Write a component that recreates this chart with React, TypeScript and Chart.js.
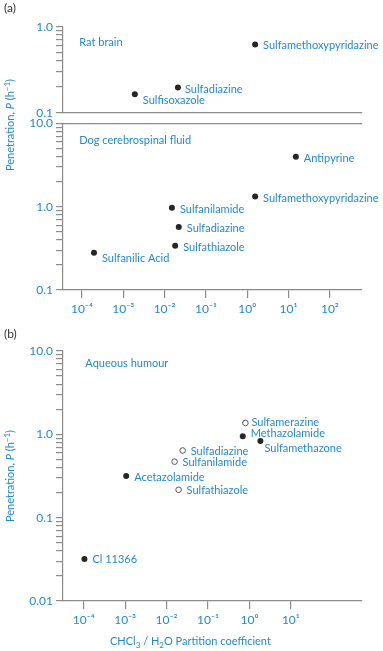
import React, { useEffect, useRef } from "react";
import { Chart, registerables } from "chart.js";
Chart.register(...registerables);

const BLUE = "#2489cf";
const AXIS = "#8c8c8c";
const DOT = "#262626";
const FONT = "Lato, 'Open Sans', sans-serif";

// ---- Panel (a): Rat brain ----
const RAT_NAMES = ["Sulfamethoxypyridazine", "Sulfadiazine", "Sulfisoxazole"];
const RAT_X = [1.55, 0.021, 0.0019];
const RAT_P = [0.62, 0.197, 0.164];
const RAT_LABEL_DY = [1, 2, 6];

// ---- Panel (a): Dog cerebrospinal fluid ----
const DOG_NAMES = ["Antipyrine", "Sulfamethoxypyridazine", "Sulfanilamide", "Sulfadiazine", "Sulfathiazole", "Sulfanilic Acid"];
const DOG_X = [15, 1.55, 0.015, 0.022, 0.018, 0.000195];
const DOG_P = [3.98, 1.32, 0.97, 0.57, 0.34, 0.28];
const DOG_LABEL_DY = [2, 2, 1.5, 1.5, 1.5, 6];

// ---- Panel (b): Aqueous humour ----
const AQ_NAMES = ["Sulfamerazine", "Methazolamide", "Sulfamethazone", "Sulfadiazine", "Sulfanilamide", "Acetazolamide", "Sulfathiazole", "Cl 11366"];
const AQ_X = [0.8, 0.69, 1.84, 0.0245, 0.0156, 0.00106, 0.0195, 0.000104];
const AQ_P = [1.37, 0.95, 0.83, 0.64, 0.47, 0.316, 0.216, 0.032];
const AQ_OPEN = [true, false, false, true, true, false, true, false];
const AQ_LABEL_DX = [6, 8, 4, 8, 8, 8, 8, 8];
const AQ_LABEL_DY = [0, -3, 7, 1, 1, 1, 1, 1];

// ---- Axis ticks ----
const X_TICKS_A = [1e-4, 1e-3, 1e-2, 1e-1, 1e0, 1e1, 1e2];
const X_TICKS_B = [1e-4, 1e-3, 1e-2, 1e-1, 1e0, 1e1];
const X_RANGE_A = [Math.pow(10, -4.46), Math.pow(10, 2.77)];
const X_RANGE_B = [Math.pow(10, -4.5), Math.pow(10, 2.71)];

function decadeTicks(lo: number, hi: number) {
  const t: number[] = [];
  for (let d = lo; d < hi; d++) for (let k = 1; k <= 9; k++) t.push(k * Math.pow(10, d));
  t.push(Math.pow(10, hi));
  return t;
}
function isDecade(v: number) {
  const l = Math.log10(v);
  return Math.abs(l - Math.round(l)) < 1e-6;
}
function yLabel(v: number) {
  if (!isDecade(v)) return "";
  return v >= 1 ? v.toFixed(1) : String(parseFloat(v.toPrecision(1)));
}
const SUP: Record<string, string> = { "-": "\u207B", "0": "\u2070", "1": "\u00B9", "2": "\u00B2", "3": "\u00B3", "4": "\u2074" };
function xLabel(v: number) {
  const e = String(Math.round(Math.log10(v)));
  return "10" + e.split("").map((c) => SUP[c] || c).join("");
}

function makeLabelPlugin(title: { text: string; dx: number; dy: number }) {
  return {
    id: "pointLabels",
    afterDatasetsDraw(chart: any) {
      const ctx = chart.ctx;
      ctx.save();
      ctx.font = `11px ${FONT}`;
      ctx.fillStyle = BLUE;
      ctx.textBaseline = "middle";
      ctx.textAlign = "left";
      chart.data.datasets.forEach((ds: any, i: number) => {
        const meta = chart.getDatasetMeta(i);
        meta.data.forEach((el: any, j: number) => {
          ctx.fillText(ds.names[j], el.x + ds.dx[j], el.y + ds.dy[j]);
        });
      });
      ctx.fillText(title.text, chart.chartArea.left + title.dx, chart.chartArea.top + title.dy);
      ctx.restore();
    },
  };
}

function dataset(names: string[], xs: number[], ys: number[], dx: number[], dy: number[], open: boolean) {
  return {
    data: xs.map((x, i) => ({ x, y: ys[i] })),
    names,
    dx,
    dy,
    pointRadius: open ? 2.8 : 3,
    pointBackgroundColor: open ? "#ffffff" : DOT,
    pointBorderColor: open ? "#555555" : DOT,
    pointBorderWidth: open ? 1 : 0,
  };
}

function makeConfig(o: any) {
  const scales: any = {
    x: {
      type: "logarithmic",
      min: o.xRange[0],
      max: o.xRange[1],
      position: "bottom",
      afterBuildTicks: (s: any) => {
        s.ticks = o.xTicks.map((v: number) => ({ value: v }));
      },
      afterFit: (s: any) => {
        s.height = o.xHeight;
      },
      ticks: {
        display: o.xLabels,
        autoSkip: false,
        maxRotation: 0,
        padding: 4,
        color: BLUE,
        font: { family: FONT, size: 12 },
        callback: (v: number) => xLabel(v),
      },
      grid: { display: o.xLabels, drawOnChartArea: false, tickLength: 8, color: AXIS, lineWidth: 1.2 },
      border: { display: true, color: AXIS, width: 1.2 },
    },
    y: {
      type: "logarithmic",
      min: o.yRange[0],
      max: o.yRange[1],
      position: "left",
      afterBuildTicks: (s: any) => {
        s.ticks = o.yTicks.map((v: number) => ({ value: v }));
      },
      afterFit: (s: any) => {
        s.width = 63;
      },
      ticks: {
        autoSkip: false,
        padding: 3,
        color: BLUE,
        font: { family: FONT, size: 12 },
        callback: (v: number) => yLabel(v),
      },
      grid: { display: true, drawOnChartArea: false, tickLength: 7, color: AXIS, lineWidth: 1.2 },
      border: { display: true, color: AXIS, width: 1.2 },
    },
  };
  if (o.topLine) {
    scales.xTop = {
      type: "logarithmic",
      min: o.xRange[0],
      max: o.xRange[1],
      position: "top",
      afterFit: (s: any) => {
        s.height = 0;
      },
      ticks: { display: false },
      grid: { display: false },
      border: { display: true, color: AXIS, width: 1.2 },
    };
  }
  return {
    type: "scatter",
    data: { datasets: o.datasets },
    options: {
      animation: false,
      responsive: false,
      maintainAspectRatio: false,
      layout: { padding: o.padding },
      plugins: { legend: { display: false }, tooltip: { enabled: false } },
      scales,
    },
    plugins: [makeLabelPlugin(o.title)],
  };
}

function Panel({ top, height, config }: { top: number; height: number; config: any }) {
  const ref = useRef<HTMLCanvasElement>(null);
  useEffect(() => {
    if (!ref.current) return;
    const chart = new Chart(ref.current, config);
    return () => chart.destroy();
  }, []);
  return (
    <canvas
      ref={ref}
      width={383}
      height={height}
      style={{ position: "absolute", left: 0, top, width: 383, height }}
    />
  );
}

const ratConfig = makeConfig({
  xRange: X_RANGE_A,
  xTicks: X_TICKS_A,
  xLabels: false,
  xHeight: 0,
  yRange: [0.1, 1],
  yTicks: decadeTicks(-1, 0),
  padding: { top: 26.7, bottom: 15.3, left: 0, right: 21.3 },
  datasets: [dataset(RAT_NAMES, RAT_X, RAT_P, [8, 7, 8], RAT_LABEL_DY, false)],
  title: { text: "Rat brain", dx: 16.3, dy: 16 },
});

const dogConfig = makeConfig({
  xRange: X_RANGE_A,
  xTicks: X_TICKS_A,
  xLabels: true,
  xHeight: 30,
  topLine: true,
  yRange: [0.1, 10],
  yTicks: decadeTicks(-1, 1),
  padding: { top: 23.3, bottom: 0, left: 0, right: 21.3 },
  datasets: [dataset(DOG_NAMES, DOG_X, DOG_P, DOG_NAMES.map(() => 8), DOG_LABEL_DY, false)],
  title: { text: "Dog cerebrospinal fluid", dx: 16.3, dy: 17.4 },
});

function pick<T>(arr: T[], open: boolean) {
  return arr.filter((_, i) => AQ_OPEN[i] === open);
}
const aqConfig = makeConfig({
  xRange: X_RANGE_B,
  xTicks: X_TICKS_B,
  xLabels: true,
  xHeight: 30,
  yRange: [0.01, 10],
  yTicks: decadeTicks(-2, 1),
  padding: { top: 21, bottom: 20, left: 0, right: 21.3 },
  datasets: [
    dataset(pick(AQ_NAMES, false), pick(AQ_X, false), pick(AQ_P, false), pick(AQ_LABEL_DX, false), pick(AQ_LABEL_DY, false), false),
    dataset(pick(AQ_NAMES, true), pick(AQ_X, true), pick(AQ_P, true), pick(AQ_LABEL_DX, true), pick(AQ_LABEL_DY, true), true),
  ],
  title: { text: "Aqueous humour", dx: 22.3, dy: 12.3 },
});

const textBase: React.CSSProperties = {
  position: "absolute",
  fontFamily: FONT,
  whiteSpace: "nowrap",
  lineHeight: 1,
};

function YTitle({ cy }: { cy: number }) {
  return (
    <div
      style={{
        ...textBase,
        left: 9,
        top: cy,
        fontSize: 11,
        color: BLUE,
        transform: "translate(-50%, -50%) rotate(-90deg)",
      }}
    >
      Penetration, <i>P</i> (h
      <span style={{ fontSize: 8, position: "relative", top: -4 }}>{"\u22121"}</span>)
    </div>
  );
}

export default function App() {
  return (
    <div style={{ position: "absolute", left: 0, top: 0, width: 383, height: 651, background: "#ffffff", overflow: "hidden" }}>
      <Panel top={0} height={128} config={ratConfig} />
      <Panel top={100} height={220} config={dogConfig} />
      <Panel top={330} height={321} config={aqConfig} />
      <div style={{ ...textBase, left: 4, top: 2, fontSize: 12, color: "#333" }}>(a)</div>
      <div style={{ ...textBase, left: 4, top: 328, fontSize: 12, color: "#333" }}>(b)</div>
      <YTitle cy={125} />
      <YTitle cy={476} />
      <div style={{ ...textBase, left: 110, top: 635, fontSize: 11, color: BLUE }}>
        CHCl<span style={{ fontSize: 8, position: "relative", top: 3 }}>3</span> / H
        <span style={{ fontSize: 8, position: "relative", top: 3 }}>2</span>O Partition coefficient
      </div>
    </div>
  );
}
